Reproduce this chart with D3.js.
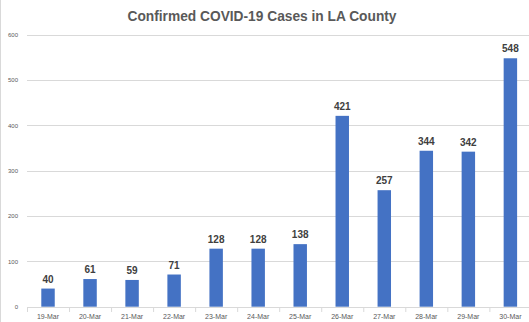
<!DOCTYPE html>
<html><head><meta charset="utf-8">
<script src="https://cdn.jsdelivr.net/npm/d3@7"></script>
<style>html,body{margin:0;padding:0;background:#fff;overflow:hidden}</style>
</head><body>
<script>
const title = "Confirmed COVID-19 Cases in LA County";
const categories = ["19-Mar","20-Mar","21-Mar","22-Mar","23-Mar","24-Mar","25-Mar","26-Mar","27-Mar","28-Mar","29-Mar","30-Mar"];
const cases = [40,61,59,71,128,128,138,421,257,344,342,548];
const yTicks = [0,100,200,300,400,500,600];

const W = 529, H = 322;
const svg = d3.select("body").append("svg").attr("width", W).attr("height", H);
svg.append("rect").attr("width", W).attr("height", H).attr("fill", "#fff");
// chart border on the left
svg.append("line").attr("x1",0.5).attr("x2",0.5).attr("y1",0).attr("y2",H).attr("stroke","#d9d9d9");

const x = d3.scaleBand().domain(categories).range([27, 531.4]).paddingInner(0.68).paddingOuter(0.34);
const y = d3.scaleLinear().domain([0, 600]).range([306.7, 34.7]);

// gridlines
svg.append("g").selectAll("line").data(yTicks.filter(d => d > 0)).join("line")
  .attr("x1", 27).attr("x2", W).attr("y1", d => Math.round(y(d)) + 0.5).attr("y2", d => Math.round(y(d)) + 0.5)
  .attr("stroke", "#d9d9d9").attr("stroke-width", 1);

// y axis labels
const yAxis = d3.axisLeft(y).tickValues(yTicks).tickSize(0).tickPadding(0);
const gy = svg.append("g").attr("transform", "translate(18,0)").call(yAxis);
gy.select(".domain").remove();
gy.selectAll("text").attr("fill", "#595959").style("font-family", "Liberation Sans, Arial, sans-serif").style("font-size", "6px");

// x axis
const xAxis = d3.axisBottom(x).tickSize(0).tickPadding(7);
const gx = svg.append("g").attr("transform", `translate(0,${Math.round(y(0)) + 0.5})`).call(xAxis);
gx.select(".domain").attr("stroke", "#d9d9d9").attr("d", `M27,0H${W}`);
gx.selectAll("text").attr("fill", "#595959").style("font-family", "Liberation Sans, Arial, sans-serif").style("font-size", "7px");
// tick marks at category boundaries
const step = x.step();
svg.append("g").selectAll("line").data(categories).join("line")
  .attr("x1", (d) => x(d) - x.paddingOuter() * step + 0.5)
  .attr("x2", (d) => x(d) - x.paddingOuter() * step + 0.5)
  .attr("y1", Math.round(y(0))).attr("y2", Math.round(y(0)) + 5)
  .attr("stroke", "#d9d9d9");

// bars
svg.append("g").selectAll("rect").data(cases).join("rect")
  .attr("x", (d, i) => x(categories[i]))
  .attr("width", x.bandwidth())
  .attr("y", d => y(d))
  .attr("height", d => y(0) - y(d))
  .attr("fill", "#4472c4");

// value labels
svg.append("g").selectAll("text").data(cases).join("text")
  .attr("x", (d, i) => x(categories[i]) + x.bandwidth() / 2)
  .attr("y", d => y(d) - 6)
  .attr("text-anchor", "middle")
  .attr("fill", "#404040")
  .style("font-family", "Liberation Sans, Arial, sans-serif")
  .style("font-weight", "bold")
  .style("font-size", "10px")
  .text(d => d);

// title
svg.append("text").attr("x", 262).attr("y", 21).attr("text-anchor", "middle")
  .attr("fill", "#595959")
  .style("font-family", "Liberation Sans, Arial, sans-serif")
  .style("font-weight", "bold").style("font-size", "14px")
  .attr("textLength", 269).attr("lengthAdjust", "spacingAndGlyphs")
  .text(title);
</script>
</body></html>
